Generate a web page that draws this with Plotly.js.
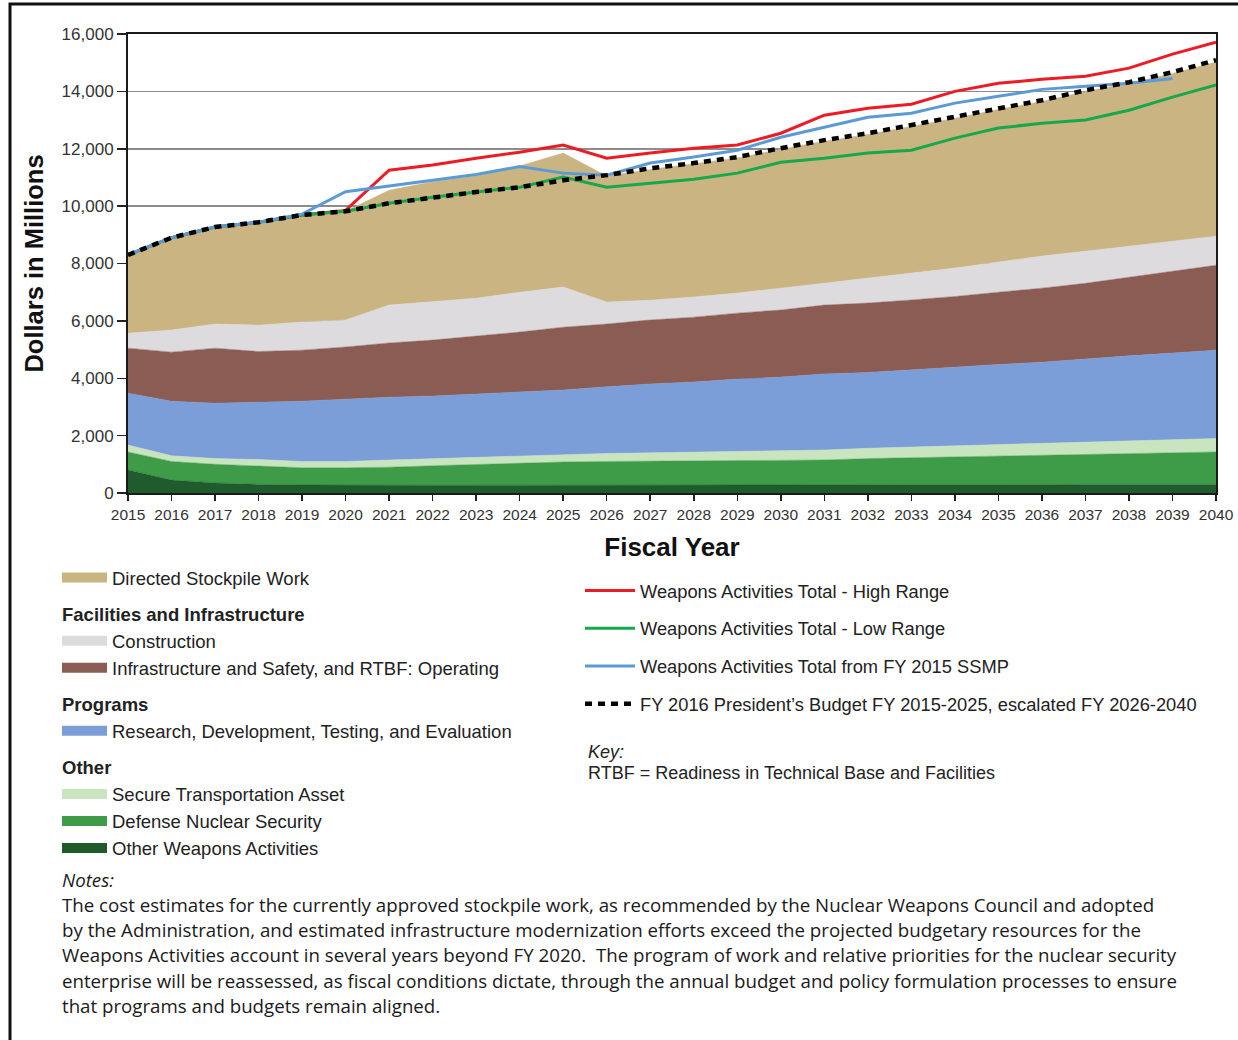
<!DOCTYPE html>
<html>
<head>
<meta charset="utf-8">
<script src="https://cdn.plot.ly/plotly-3.0.1.min.js"></script>
<style>
  html, body { margin: 0; padding: 0; background: #ffffff; }
  #chart { width: 1238px; height: 1040px; }
</style>
</head>
<body>
<div id="chart"></div>
<script>
// ---------- DATA (millions of dollars) ----------
const years = [2015, 2016, 2017, 2018, 2019, 2020, 2021, 2022, 2023, 2024, 2025, 2026, 2027,
               2028, 2029, 2030, 2031, 2032, 2033, 2034, 2035, 2036, 2037, 2038, 2039, 2040];
const tickLabels = ['2015','2016','2017','2018','2019','2020','2021','2022','2023','2024','2025','2026','2027',
                    '2028','2029','2030','2031','2032','2033','2034','2035','2036','2037','2038','2039','2040'];

// stacked components (bottom to top)
const otherWeaponsActivities = [800, 450, 350, 300, 280, 270, 270, 270, 270, 270, 270, 270, 270,
                                270, 270, 270, 280, 280, 280, 290, 290, 290, 300, 300, 300, 300];
const defenseNuclearSecurity = [630, 650, 650, 650, 600, 610, 630, 680, 730, 780, 810, 830, 830,
                                850, 860, 870, 870, 920, 950, 970, 1000, 1030, 1050, 1070, 1100, 1130];
const secureTransportation = [240, 200, 200, 220, 220, 220, 250, 250, 250, 250, 260, 280, 300,
                              300, 310, 330, 350, 360, 370, 380, 390, 400, 410, 430, 450, 470];
const rdte = [1810, 1900, 1930, 2000, 2100, 2170, 2190, 2180, 2200, 2220, 2250, 2320, 2400,
              2450, 2530, 2570, 2650, 2640, 2700, 2760, 2800, 2840, 2920, 2980, 3030, 3080];
const infrastructureOperating = [1570, 1710, 1920, 1760, 1780, 1820, 1890, 1950, 2020, 2090, 2190, 2190, 2230,
                                 2260, 2300, 2340, 2400, 2420, 2430, 2450, 2520, 2580, 2630, 2750, 2850, 2960];
const construction = [520, 770, 840, 920, 980, 940, 1320, 1330, 1320, 1390, 1400, 770, 690,
                      700, 700, 760, 760, 870, 940, 990, 1050, 1120, 1120, 1080, 1050, 1010];
const directedStockpileWork = [2730, 3220, 3380, 3590, 3730, 3790, 4000, 4190, 4260, 4400, 4670, 4390, 4560,
                               4640, 4710, 4840, 4950, 5010, 5110, 5220, 5320, 5390, 5570, 5670, 5840, 6070];

// total lines
const highRange = [8300, 8900, 9270, 9440, 9690, 9850, 11250, 11430, 11670, 11880, 12130, 11670, 11850,
                   12020, 12130, 12540, 13170, 13410, 13550, 14000, 14280, 14420, 14530, 14810, 15300, 15710];
const lowRange = [8300, 8900, 9270, 9440, 9690, 9820, 10100, 10310, 10490, 10660, 11010, 10660, 10800,
                  10940, 11150, 11530, 11670, 11850, 11950, 12370, 12720, 12890, 13000, 13340, 13800, 14220];
const ssmpYears = [2015, 2016, 2017, 2018, 2019, 2020, 2021, 2022, 2023, 2024, 2025, 2026, 2027,
                   2028, 2029, 2030, 2031, 2032, 2033, 2034, 2035, 2036, 2037, 2038, 2039];
const ssmpTotal = [8300, 8900, 9270, 9440, 9720, 10500, 10700, 10900, 11100, 11380, 11150, 11080, 11500,
                   11710, 11950, 12400, 12750, 13100, 13240, 13590, 13830, 14070, 14180, 14280, 14450];
const presidentsBudget = [8300, 8900, 9270, 9440, 9690, 9820, 10100, 10310, 10490, 10660, 10900, 11080, 11320,
                          11500, 11710, 12020, 12300, 12540, 12820, 13100, 13410, 13690, 14040, 14320, 14670, 15090];

// ---------- TRACES ----------
const FONT = '"Liberation Sans", Arial, sans-serif';
const groupTitleFont = { family: FONT, size: 18.5, color: '#222', weight: 'bold' };

const areaDefs = [  // bottom to top
  { name: 'Other Weapons Activities', y: otherWeaponsActivities, color: '#1f5b2d', group: 'other', title: 'Other' },
  { name: 'Defense Nuclear Security', y: defenseNuclearSecurity, color: '#3e9c49', group: 'other', title: 'Other' },
  { name: 'Secure Transportation Asset', y: secureTransportation, color: '#c8e5bf', group: 'other', title: 'Other' },
  { name: 'Research, Development, Testing, and Evaluation', y: rdte, color: '#7b9dd8', group: 'programs', title: 'Programs' },
  { name: 'Infrastructure and Safety, and RTBF: Operating', y: infrastructureOperating, color: '#8b5c53', group: 'fac', title: 'Facilities and Infrastructure' },
  { name: 'Construction', y: construction, color: '#dddbdd', group: 'fac', title: 'Facilities and Infrastructure' },
  { name: 'Directed Stockpile Work', y: directedStockpileWork, color: '#c9b482', group: 'dsw', title: null }
];

const traces = [];
areaDefs.forEach(d => traces.push({
  type: 'scatter', mode: 'lines', x: years, y: d.y, name: d.name,
  stackgroup: 'one', fillcolor: d.color, line: { color: d.color, width: 0.5 },
  showlegend: false, legendgroup: d.group, hoverinfo: 'skip'
}));

// lines
traces.push(
  { type: 'scatter', mode: 'lines', x: years, y: highRange, name: 'Weapons Activities Total - High Range',
    line: { color: '#ed1c24', width: 3 }, legend: 'legend2', legendgroup: 'hi' },
  { type: 'scatter', mode: 'lines', x: years, y: lowRange, name: 'Weapons Activities Total - Low Range',
    line: { color: '#17a84b', width: 3 }, legend: 'legend2', legendgroup: 'lo' },
  { type: 'scatter', mode: 'lines', x: ssmpYears, y: ssmpTotal, name: 'Weapons Activities Total from FY 2015 SSMP',
    line: { color: '#5b9bd5', width: 3 }, legend: 'legend2', legendgroup: 'ss' },
  { type: 'scatter', mode: 'lines', x: years, y: presidentsBudget,
    name: 'FY 2016 President\u2019s Budget FY 2015-2025, escalated FY 2026-2040',
    line: { color: '#000000', width: 4.5, dash: '7px,6px' }, legend: 'legend2', legendgroup: 'pb' }
);

// legend entries for the stacked areas (block swatches), listed top to bottom
areaDefs.slice().reverse().forEach(d => {
  const t = {
    type: 'scatter', mode: 'lines', x: [null], y: [null], name: d.name,
    line: { color: d.color, width: 15 }, legend: 'legend', legendgroup: d.group, hoverinfo: 'skip'
  };
  if (d.title) t.legendgrouptitle = { text: d.title, font: groupTitleFont };
  traces.push(t);
});

// ---------- LAYOUT ----------
const L = 128, R = 1216, T = 34, B = 493;
const px = x => (x - L) / (R - L);
const py = y => (B - y) / (B - T);

function note(text, xPix, yPix, font) {
  return { xref: 'paper', yref: 'paper', x: px(xPix), y: py(yPix), xanchor: 'left', yanchor: 'middle',
           text: text, showarrow: false, align: 'left', font: font };
}
const notesFont = { family: '"Open Sans", sans-serif', size: 18.7, color: '#1a1a1a' };
const keyFont = { family: FONT, size: 18, color: '#222' };

const layout = {
  width: 1238, height: 1040,
  margin: { l: L, r: 1238 - R, t: T, b: 1040 - B },
  paper_bgcolor: '#ffffff', plot_bgcolor: '#ffffff',
  font: { family: FONT, color: '#222' },
  showlegend: true,
  xaxis: {
    range: [2015, 2040], tickmode: 'array', tickvals: years, ticktext: tickLabels, tickangle: 0,
    ticks: 'outside', ticklen: 6, tickcolor: '#222', tickwidth: 1.5,
    showline: true, linecolor: '#1a1a1a', linewidth: 2, mirror: true,
    showgrid: false, zeroline: false,
    tickfont: { family: FONT, size: 15.5, color: '#333' },
    title: { text: 'Fiscal Year', standoff: 16, font: { family: FONT, size: 26, color: '#111', weight: 'bold' } }
  },
  yaxis: {
    range: [0, 16000], dtick: 2000, tickformat: ',d',
    ticks: 'outside', ticklen: 9, tickcolor: '#222', tickwidth: 1.5,
    showline: true, linecolor: '#1a1a1a', linewidth: 2, mirror: true,
    showgrid: true, gridcolor: '#8c8c8c', gridwidth: 1.5, zeroline: false,
    tickfont: { family: FONT, size: 17, color: '#333' },
    title: { text: 'Dollars in Millions', standoff: 11, font: { family: FONT, size: 25.5, color: '#111', weight: 'bold' } }
  },
  legend: {
    x: px(57), y: py(559), xanchor: 'left', yanchor: 'top',
    traceorder: 'grouped', tracegroupgap: 9, itemwidth: 45,
    font: { family: FONT, size: 18.5, color: '#222' }, bgcolor: 'rgba(0,0,0,0)'
  },
  legend2: {
    x: px(580), y: py(572), xanchor: 'left', yanchor: 'top',
    traceorder: 'grouped', tracegroupgap: 11, itemwidth: 50,
    font: { family: FONT, size: 18.3, color: '#222' }, bgcolor: 'rgba(0,0,0,0)'
  },
  annotations: [
    note('<i>Key:</i>', 586, 752, keyFont),
    note('RTBF = Readiness in Technical Base and Facilities', 586, 773, keyFont),
    note('<i>Notes:</i>', 60, 879, notesFont),
    note('The cost estimates for the currently approved stockpile work, as recommended by the Nuclear Weapons Council and adopted', 60, 904, notesFont),
    note('by the Administration, and estimated infrastructure modernization efforts exceed the projected budgetary resources for the', 60, 929, notesFont),
    note('Weapons Activities account in several years beyond FY 2020.\u00a0 The program of work and relative priorities for the nuclear security', 60, 954, notesFont),
    note('enterprise will be reassessed, as fiscal conditions dictate, through the annual budget and policy formulation processes to ensure', 60, 980, notesFont),
    note('that programs and budgets remain aligned.', 60, 1005, notesFont)
  ],
  shapes: [
    { type: 'rect', xref: 'paper', yref: 'paper', x0: px(10), x1: px(1242), y0: py(1044), y1: py(4),
      line: { color: '#111', width: 3 }, fillcolor: 'rgba(0,0,0,0)', layer: 'above' }
  ]
};

Plotly.newPlot('chart', traces, layout, { staticPlot: true, displayModeBar: false });
</script>
</body>
</html>
